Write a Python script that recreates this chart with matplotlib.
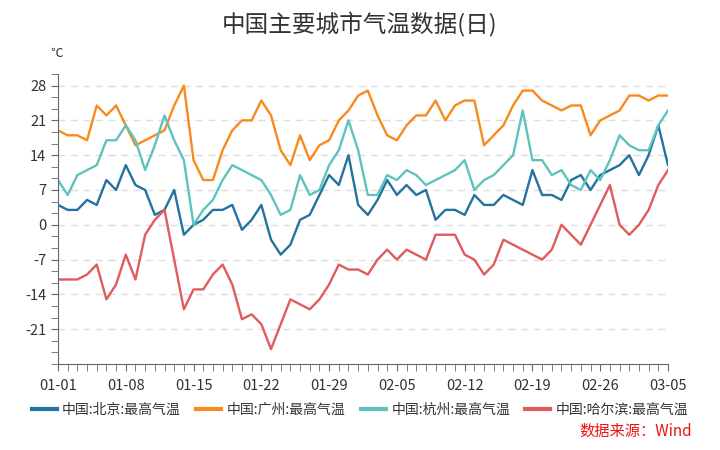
import matplotlib
matplotlib.use("Agg")
import matplotlib.pyplot as plt
import numpy as np
import pandas as pd

plt.rcParams['font.family'] = ['Noto Sans CJK SC', 'DejaVu Sans']
plt.rcParams['axes.unicode_minus'] = False

# 日期: 01-01 ~ 03-05
dates = pd.date_range('2021-01-01', '2021-03-05', freq='D')

beijing = [4, 3, 3, 5, 4, 9, 7, 12, 8, 7, 2, 3, 7, -2, 0, 1, 3, 3, 4, -1,
           1, 4, -3, -6, -4, 1, 2, 6, 10, 8, 14, 4, 2, 5, 9, 6, 8, 6, 7, 1,
           3, 3, 2, 6, 4, 4, 6, 5, 4, 11, 6, 6, 5, 9, 10, 7, 10, 11, 12, 14,
           10, 14, 20, 12]
guangzhou = [19, 18, 18, 17, 24, 22, 24, 20, 16, 17, 18, 19, 24, 28, 13, 9, 9, 15, 19, 21,
             21, 25, 22, 15, 12, 18, 13, 16, 17, 21, 23, 26, 27, 22, 18, 17, 20, 22, 22, 25,
             21, 24, 25, 25, 16, 18, 20, 24, 27, 27, 25, 24, 23, 24, 24, 18, 21, 22, 23, 26,
             26, 25, 26, 26]
hangzhou = [9, 6, 10, 11, 12, 17, 17, 20, 17, 11, 16, 22, 17, 13, 0, 3, 5, 9, 12, 11,
            10, 9, 6, 2, 3, 10, 6, 7, 12, 15, 21, 15, 6, 6, 10, 9, 11, 10, 8, 9,
            10, 11, 13, 7, 9, 10, 12, 14, 23, 13, 13, 10, 11, 8, 7, 11, 9, 13, 18, 16,
            15, 15, 20, 23]
harbin = [-11, -11, -11, -10, -8, -15, -12, -6, -11, -2, 1, 3, -7, -17, -13, -13, -10, -8, -12, -19,
          -18, -20, -25, -20, -15, -16, -17, -15, -12, -8, -9, -9, -10, -7, -5, -7, -5, -6, -7, -2,
          -2, -2, -6, -7, -10, -8, -3, -4, -5, -6, -7, -5, 0, -2, -4, 0, 4, 8, 0, -2,
          0, 3, 8, 11]

series_names = ['中国:北京:最高气温', '中国:广州:最高气温', '中国:杭州:最高气温', '中国:哈尔滨:最高气温']
colors = ['#23729f', '#f98a1d', '#5ec3be', '#e15b5d']

fig = plt.figure(figsize=(7.2, 4.5), dpi=100)
ax = fig.add_axes([58 / 720, 1 - 364 / 450, 610 / 720, (364 - 74) / 450])

for vals, name, c in zip([beijing, guangzhou, hangzhou, harbin], series_names, colors):
    ax.plot(dates, vals, color=c, lw=1.7, label=name)

ax.set_xlim(dates[0], dates[-1])
ax.set_ylim(-28, 30.33)
ax.set_yticks(np.arange(-21, 29, 7))
ax.set_yticks(np.arange(-28, 30.4, 7 / 3), minor=True)
ax.set_xticks(dates[::7])
ax.set_xticklabels([d.strftime('%m-%d') for d in dates[::7]])
ax.set_xticks(dates, minor=True)

for s in ['top', 'right']:
    ax.spines[s].set_visible(False)
for s in ['left', 'bottom']:
    ax.spines[s].set_color('#666666')
ax.tick_params(which='both', length=5, color='#666666', labelsize=10.5, labelcolor='#333333')
ax.tick_params(axis='x', pad=6)
ax.grid(axis='y', which='major', color='#dddddd', linestyle=(0, (5, 4)), lw=1)
ax.set_axisbelow(True)

fig.text(360 / 720, 1 - 25 / 450, '中国主要城市气温数据(日)', ha='center', va='center',
         fontsize=17, color='#333333')
fig.text(57 / 720, 1 - 53 / 450, '℃', ha='center', va='center', fontsize=9, color='#333333')

fig.legend(loc='center', bbox_to_anchor=(360 / 720, 1 - 410 / 450), ncol=4, frameon=False,
           fontsize=10, handlelength=1.8, handletextpad=0.4, columnspacing=1.1,
           labelcolor='#333333')
for line in fig.legends[0].get_lines():
    line.set_linewidth(3)

fig.text(692 / 720, 1 - 431 / 450, '数据来源：Wind', ha='right', va='center', fontsize=11, color='#ee1111')

fig.savefig('out.png', dpi=100)
